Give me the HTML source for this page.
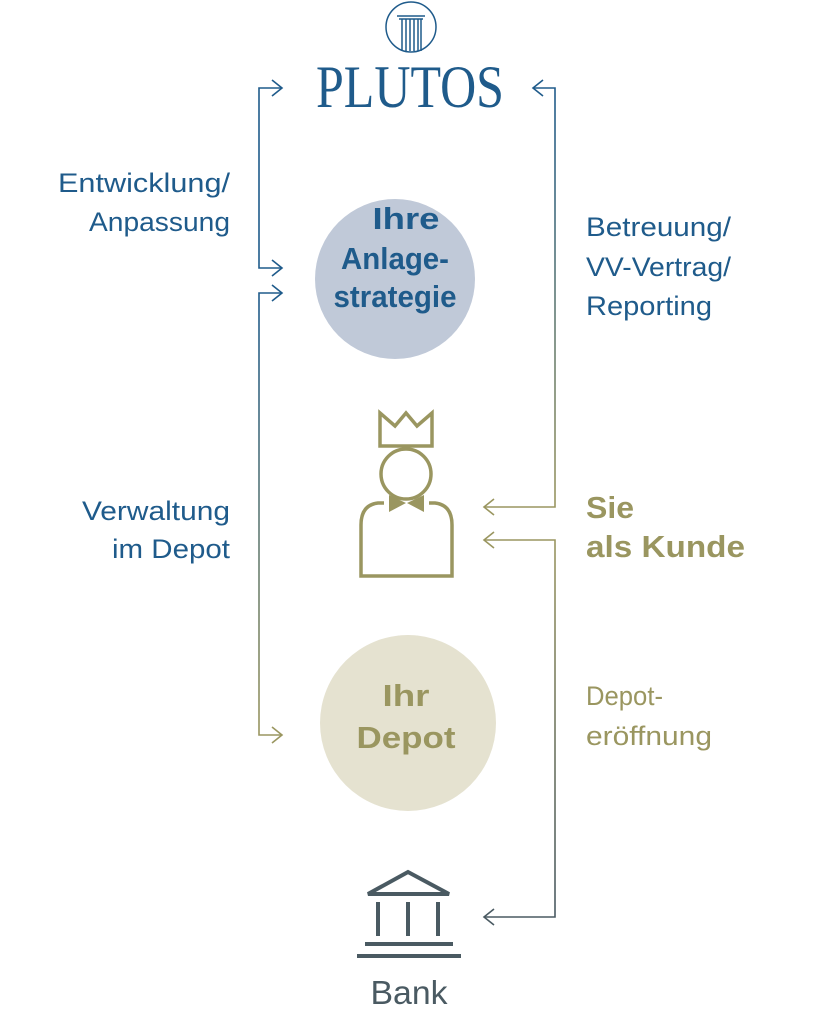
<!DOCTYPE html>
<html><head><meta charset="utf-8"><style>
html,body{margin:0;padding:0;background:#fff;}
svg{display:block;}
text{font-family:"Liberation Sans",sans-serif;}
</style></head><body>
<svg width="819" height="1024" viewBox="0 0 819 1024" xmlns="http://www.w3.org/2000/svg">
<defs>
<linearGradient id="gL" x1="0" y1="297" x2="0" y2="735" gradientUnits="userSpaceOnUse"><stop offset="0" stop-color="#1f5b8b"/><stop offset="1" stop-color="#9a9660"/></linearGradient>
<linearGradient id="gR1" x1="0" y1="88" x2="0" y2="507" gradientUnits="userSpaceOnUse"><stop offset="0" stop-color="#1f5b8b"/><stop offset="1" stop-color="#9a9660"/></linearGradient>
<linearGradient id="gR2" x1="0" y1="540" x2="0" y2="913" gradientUnits="userSpaceOnUse"><stop offset="0" stop-color="#9a9660"/><stop offset="1" stop-color="#4a5a62"/></linearGradient>
</defs>
<g stroke="#1f5b8b" fill="none" stroke-width="1.5">
<circle cx="411" cy="27" r="25"/>
<path d="M397 16 H425 M399 19 H423 M402 19 V51 M406 19 V51 M410 19 V51 M414 19 V51 M418 19 V51 M421 19 V51"/>
</g>
<text x="410" y="107" font-size="60" fill="#1f5b8b" text-anchor="middle" textLength="188" lengthAdjust="spacingAndGlyphs" style="font-family:'Liberation Serif',serif">PLUTOS</text>
<g fill="none" stroke-width="1.6">
<path d="M282 88 H259 V268 H282" stroke="#1f5b8b"/>
<path d="M272 80 L282 88 L272 96 M272 260 L282 268 L272 276" stroke="#1f5b8b"/>
<path d="M282 293 H259 V735 H282" stroke="url(#gL)"/>
<path d="M272 285 L282 293 L272 301" stroke="#1f5b8b"/>
<path d="M272 727 L282 735 L272 743" stroke="#9a9660"/>
<path d="M533 88 H555 V507 H484" stroke="url(#gR1)"/>
<path d="M543 80 L533 88 L543 96" stroke="#1f5b8b"/>
<path d="M494 499 L484 507 L494 515" stroke="#9a9660"/>
<path d="M484 540 H555 V917 H484" stroke="url(#gR2)"/>
<path d="M494 532 L484 540 L494 548" stroke="#9a9660"/>
<path d="M494 909 L484 917 L494 925" stroke="#4a5a62"/>
</g>
<circle cx="395" cy="279" r="80" fill="#c0c9d8"/>
<circle cx="408" cy="723" r="88" fill="#e5e2d0"/>
<g font-weight="bold" font-size="31" text-anchor="middle" fill="#1f5b8b">
<text x="406" y="229" textLength="67" lengthAdjust="spacingAndGlyphs">Ihre</text>
<text x="395" y="269" textLength="108" lengthAdjust="spacingAndGlyphs">Anlage-</text>
<text x="395" y="307" textLength="123" lengthAdjust="spacingAndGlyphs">strategie</text>
</g>
<g font-weight="bold" font-size="31" text-anchor="middle" fill="#9a9660">
<text x="406" y="706" textLength="47" lengthAdjust="spacingAndGlyphs">Ihr</text>
<text x="406" y="748" textLength="99" lengthAdjust="spacingAndGlyphs">Depot</text>
</g>
<g stroke="#9a9660" stroke-width="3.5" fill="none">
<path d="M380 413 L395 426 L406 413 L417 426 L432 413 V446 H380 Z"/>
<circle cx="406" cy="474" r="25"/>
<path d="M384 503 H378 Q361 505 361 525 V576 H452 V525 Q452 505 435 503 H429"/>
</g>
<path d="M389 495 L406 503 L389 512 Z M424 495 L407 503 L424 512 Z" fill="#9a9660"/>
<g stroke="#4a5a62" stroke-width="4" fill="none">
<path d="M368 894 L408 872 L449 894 Z"/>
<path d="M378 902 V936 M408 902 V936 M438 902 V936 M365 944 H453 M357 956 H461"/>
</g>
<text x="409" y="1004" font-size="33" fill="#4a5a62" text-anchor="middle" textLength="77" lengthAdjust="spacingAndGlyphs">Bank</text>
<g font-size="27" fill="#1f5b8b" text-anchor="end">
<text x="230" y="192" textLength="172" lengthAdjust="spacingAndGlyphs">Entwicklung/</text>
<text x="230" y="231" textLength="141" lengthAdjust="spacingAndGlyphs">Anpassung</text>
<text x="230" y="520" textLength="148" lengthAdjust="spacingAndGlyphs">Verwaltung</text>
<text x="230" y="558" textLength="118" lengthAdjust="spacingAndGlyphs">im Depot</text>
</g>
<g font-size="27" fill="#1f5b8b">
<text x="586" y="236" textLength="145" lengthAdjust="spacingAndGlyphs">Betreuung/</text>
<text x="586" y="276" textLength="145" lengthAdjust="spacingAndGlyphs">VV-Vertrag/</text>
<text x="586" y="315" textLength="126" lengthAdjust="spacingAndGlyphs">Reporting</text>
</g>
<g font-size="31" font-weight="bold" fill="#9a9660">
<text x="586" y="518" textLength="48" lengthAdjust="spacingAndGlyphs">Sie</text>
<text x="586" y="557" textLength="159" lengthAdjust="spacingAndGlyphs">als Kunde</text>
</g>
<g font-size="27" fill="#9a9660">
<text x="586" y="705" textLength="77" lengthAdjust="spacingAndGlyphs">Depot-</text>
<text x="586" y="745" textLength="126" lengthAdjust="spacingAndGlyphs">eröffnung</text>
</g>
</svg>
</body></html>
